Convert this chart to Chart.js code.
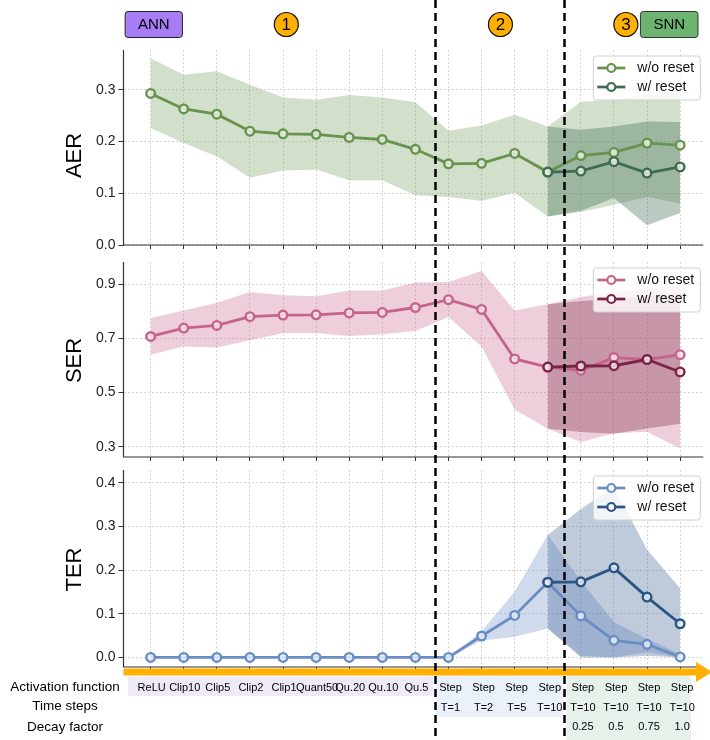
<!DOCTYPE html>
<html><head><meta charset="utf-8">
<script src="https://cdn.jsdelivr.net/npm/chart.js@4.4.1/dist/chart.umd.min.js"></script>
<style>
html,body{margin:0;padding:0;background:#fff;}
#wrap{position:relative;width:710px;height:740px;overflow:hidden;background:#fff;}
#wrap canvas{position:absolute;left:0;top:0;width:710px;height:740px;}
</style></head><body>
<div id="wrap">
<canvas id="aer" width="710" height="740"></canvas>
<canvas id="ser" width="710" height="740"></canvas>
<canvas id="ter" width="710" height="740"></canvas>
</div>
<script>
// ---- categories / table rows ----
const categories = ['ReLU','Clip10','Clip5','Clip2','Clip1','Quant50','Qu.20','Qu.10','Qu.5','Step','Step','Step','Step','Step','Step','Step','Step'];
const timeSteps  = ['','','','','','','','','','T=1','T=2','T=5','T=10','T=10','T=10','T=10','T=10'];
const decayFactors = ['','','','','','','','','','','','','','0.25','0.5','0.75','1.0'];
const rowLabels = ['Activation function','Time steps','Decay factor'];
const seriesNames = ['w/o reset','w/ reset'];

// ---- AER ----
const aerWo   = [0.293,0.263,0.253,0.220,0.215,0.214,0.208,0.204,0.185,0.157,0.158,0.177,0.141,0.173,0.179,0.197,0.193];
const aerWoHi = [0.361,0.329,0.336,0.310,0.285,0.281,0.290,0.285,0.276,0.221,0.231,0.252,0.229,0.277,0.281,0.290,0.300];
const aerWoLo = [0.226,0.197,0.171,0.130,0.144,0.146,0.125,0.125,0.096,0.093,0.085,0.101,0.055,0.064,0.078,0.093,0.080];
const aerW    = [null,null,null,null,null,null,null,null,null,null,null,null,0.141,0.143,0.161,0.139,0.151];
const aerWHi  = [null,null,null,null,null,null,null,null,null,null,null,null,0.229,0.223,0.229,0.239,0.238];
const aerWLo  = [null,null,null,null,null,null,null,null,null,null,null,null,0.055,0.066,0.091,0.038,0.062];
const aerTicks = [0.0,0.1,0.2,0.3];

// ---- SER ----
const serWo   = [0.707,0.738,0.748,0.780,0.786,0.787,0.794,0.796,0.814,0.843,0.807,0.624,0.594,0.582,0.629,0.622,0.640];
const serWoHi = [0.775,0.803,0.832,0.871,0.859,0.856,0.877,0.877,0.906,0.908,0.949,0.803,0.826,0.853,0.872,0.885,0.896];
const serWoLo = [0.640,0.670,0.666,0.693,0.720,0.720,0.709,0.715,0.727,0.779,0.670,0.437,0.366,0.317,0.350,0.355,0.293];
const serW    = [null,null,null,null,null,null,null,null,null,null,null,null,0.594,0.598,0.599,0.622,0.576];
const serWHi  = [null,null,null,null,null,null,null,null,null,null,null,null,0.826,0.838,0.845,0.855,0.865];
const serWLo  = [null,null,null,null,null,null,null,null,null,null,null,null,0.366,0.354,0.348,0.367,0.385];
const serTicks = [0.3,0.5,0.7,0.9];

// ---- TER ----
const terWo   = [0,0,0,0,0,0,0,0,0,0,0.049,0.096,0.172,0.095,0.039,0.030,0.001];
const terWoHi = [0,0,0,0,0,0,0,0,0,0,0.060,0.150,0.280,0.175,0.081,0.042,0.008];
const terWoLo = [0,0,0,0,0,0,0,0,0,0,0.038,0.047,0.066,0.004,0.000,0.012,0.000];
const terW    = [null,null,null,null,null,null,null,null,null,null,null,null,0.172,0.173,0.205,0.138,0.077];
const terWHi  = [null,null,null,null,null,null,null,null,null,null,null,null,0.280,0.340,0.390,0.247,0.158];
const terWLo  = [null,null,null,null,null,null,null,null,null,null,null,null,0.066,0.000,0.000,0.004,0.000];
const terTicks = [0.0,0.1,0.2,0.3,0.4];

const FAM = '"Liberation Sans", Arial, Helvetica, sans-serif';
Chart.defaults.font.family = FAM;

const pts = arr => arr.map((v,i)=> v===null ? null : {x:i, y:v}).filter(p=>p);

function rr(ctx,x,y,w,h,r){
  ctx.beginPath();
  ctx.moveTo(x+r,y); ctx.lineTo(x+w-r,y); ctx.quadraticCurveTo(x+w,y,x+w,y+r);
  ctx.lineTo(x+w,y+h-r); ctx.quadraticCurveTo(x+w,y+h,x+w-r,y+h);
  ctx.lineTo(x+r,y+h); ctx.quadraticCurveTo(x,y+h,x,y+h-r);
  ctx.lineTo(x,y+r); ctx.quadraticCurveTo(x,y,x+r,y); ctx.closePath();
}

const panelDeco = {
  id:'panelDeco',
  beforeDatasetsDraw(chart){
    // axis spines (left + bottom)
    const ctx = chart.ctx, ca = chart.chartArea;
    ctx.save();
    ctx.strokeStyle='#333'; ctx.lineWidth=1.2; ctx.setLineDash([]);
    ctx.beginPath(); ctx.moveTo(ca.left, ca.top); ctx.lineTo(ca.left, ca.bottom); ctx.lineTo(ca.right, ca.bottom); ctx.stroke();
    ctx.restore();
  },
  afterDraw(chart, args, o){
    const ctx = chart.ctx, ca = chart.chartArea;
    // y title
    ctx.save();
    ctx.translate(75, (ca.top+ca.bottom)/2 + o.titleShift);
    ctx.rotate(-Math.PI/2);
    ctx.font = '22px '+FAM; ctx.fillStyle='#000'; ctx.textAlign='center'; ctx.textBaseline='middle';
    ctx.fillText(o.title,0,0);
    ctx.restore();
    // legend
    const bx = ca.right-110, by = ca.top+6, bw=107, bh=44;
    ctx.save();
    rr(ctx,bx,by,bw,bh,3);
    ctx.fillStyle='rgba(255,255,255,0.8)'; ctx.fill();
    ctx.strokeStyle='#d0d0d0'; ctx.lineWidth=1; ctx.stroke();
    const cols=[o.woColor,o.wColor];
    seriesNames.forEach((name,k)=>{
      const y = by+12+k*19;
      ctx.strokeStyle=cols[k]; ctx.lineWidth=2.7;
      ctx.beginPath(); ctx.moveTo(bx+4,y); ctx.lineTo(bx+32,y); ctx.stroke();
      ctx.beginPath(); ctx.arc(bx+18,y,4,0,Math.PI*2);
      ctx.fillStyle='#f4f4f4'; ctx.fill(); ctx.lineWidth=2.2; ctx.stroke();
      ctx.font='14px '+FAM; ctx.fillStyle='#111'; ctx.textAlign='left'; ctx.textBaseline='middle';
      ctx.fillText(name,bx+44,y+0.5);
    });
    ctx.restore();
  }
};

const overlay = {
  id:'overlay',
  afterDraw(chart){
    const ctx = chart.ctx, ca = chart.chartArea, xs = chart.scales.x;
    const px = v => xs.getPixelForValue(v);
    ctx.save();
    // shaded table regions
    ctx.fillStyle='#efeaf8'; ctx.fillRect(px(-0.69),677,px(8.54)-px(-0.69),19);
    ctx.fillStyle='#eaf1fb'; ctx.fillRect(px(8.63),675,px(12.45)-px(8.63),42);
    ctx.fillStyle='#e5f1e9'; ctx.fillRect(px(12.57),675,px(16.33)-px(12.57),65);
    // orange arrow
    ctx.fillStyle='#ffb000';
    ctx.fillRect(ca.left,668.5,698-ca.left,7);
    ctx.beginPath(); ctx.moveTo(696,662); ctx.lineTo(712,672); ctx.lineTo(696,682); ctx.closePath(); ctx.fill();
    // row labels
    ctx.fillStyle='#000'; ctx.textAlign='center'; ctx.textBaseline='middle';
    ctx.font='13.5px '+FAM;
    const rowY=[687,706,727];
    rowLabels.forEach((t,k)=>ctx.fillText(t,65,rowY[k]));
    ctx.font='11px '+FAM;
    categories.forEach((t,i)=>ctx.fillText(t,px(i)+(i>8?2:1),688));
    timeSteps.forEach((t,i)=>{ if(t) ctx.fillText(t,px(i)+2,708); });
    decayFactors.forEach((t,i)=>{ if(t) ctx.fillText(t,px(i)+2,727); });
    // header
    ctx.lineWidth=1;
    rr(ctx,px(-0.77),11.5,px(0.96)-px(-0.77),26,3);
    ctx.fillStyle='#a77df6'; ctx.fill(); ctx.strokeStyle='#222'; ctx.stroke();
    rr(ctx,px(14.8),11.5,px(16.54)-px(14.8),26,3);
    ctx.fillStyle='#6cb46f'; ctx.fill(); ctx.strokeStyle='#333'; ctx.stroke();
    ctx.font='15px '+FAM; ctx.fillStyle='#000';
    ctx.fillText('ANN',(px(-0.77)+px(0.96))/2,25);
    ctx.fillText('SNN',(px(14.8)+px(16.54))/2,25);
    [[4.1,'1'],[10.57,'2'],[14.36,'3']].forEach(([v,t])=>{
      ctx.beginPath(); ctx.arc(px(v),24.5,12,0,Math.PI*2);
      ctx.fillStyle='#ffb000'; ctx.fill(); ctx.strokeStyle='#111'; ctx.lineWidth=1.2; ctx.stroke();
      ctx.font='17px '+FAM; ctx.fillStyle='#000'; ctx.fillText(t,px(v),25.5);
    });
    // dashed separators
    ctx.strokeStyle='#000'; ctx.lineWidth=2.5; ctx.setLineDash([8,5]);
    [8.6,12.5].forEach(v=>{ const x=Math.round(px(v))+0.5; ctx.beginPath(); ctx.moveTo(x,0); ctx.lineTo(x,740); ctx.stroke(); });
    ctx.restore();
  }
};

function makeChart(id, c){
  const ptStyle = col => ({borderColor:col, borderWidth:2.8, pointRadius:4.3, pointBorderWidth:2.4,
      pointBorderColor:col, pointBackgroundColor:c.pointFill, fill:false});
  const datasets = [
    {data:pts(c.woHi), borderWidth:0, borderColor:'rgba(0,0,0,0)', pointRadius:0, fill:'+1', backgroundColor:c.woBand, order:3},
    {data:pts(c.woLo), borderWidth:0, borderColor:'rgba(0,0,0,0)', pointRadius:0, fill:false, order:3},
    {data:pts(c.wHi), borderWidth:0, borderColor:'rgba(0,0,0,0)', pointRadius:0, fill:'+1', backgroundColor:c.wBand, order:2},
    {data:pts(c.wLo), borderWidth:0, borderColor:'rgba(0,0,0,0)', pointRadius:0, fill:false, order:2},
    Object.assign({label:seriesNames[0], data:pts(c.wo), order:1}, ptStyle(c.woColor)),
    Object.assign({label:seriesNames[1], data:pts(c.w), order:0}, ptStyle(c.wColor))
  ];
  const gridCommon = {color:'#cccccc', lineWidth:0.8, borderDash:[2,2], tickColor:'#333', tickWidth:1, tickBorderDash:[]};
  const borderCommon = {display:false, dash:[2,2], color:'#333', width:1.2};
  return new Chart(document.getElementById(id), {
    type:'line',
    data:{datasets},
    options:{
      responsive:false, animation:false, devicePixelRatio:1,
      events:[],
      layout:{padding:{top:c.top, bottom:740-c.bottom-5, left:0, right:0}},
      elements:{line:{tension:0}},
      plugins:{legend:{display:false}, tooltip:{enabled:false},
        panelDeco:{title:c.title, titleShift:c.titleShift, woColor:c.woColor, wColor:c.wColor}},
      scales:{
        x:{type:'linear', min:-0.82, max:16.7,
          afterBuildTicks:s=>{ s.ticks = categories.map((_,i)=>({value:i})); },
          afterFit:s=>{ s.height=5; },
          ticks:{display:false},
          grid:Object.assign({tickLength:4}, gridCommon),
          border:borderCommon},
        y:{type:'linear', min:c.min, max:c.max,
          afterBuildTicks:s=>{ s.ticks = c.ticks.map(v=>({value:v})); },
          afterFit:s=>{ s.width=123.5; },
          ticks:{font:{size:14, family:FAM}, color:'#222', padding:3, callback:v=>Number(v).toFixed(1)},
          grid:Object.assign({tickLength:5}, gridCommon),
          border:borderCommon}
      }
    },
    plugins: c.extra ? [panelDeco, overlay] : [panelDeco]
  });
}

makeChart('aer',{title:'AER', titleShift:8, top:50, bottom:245, min:0, max:0.377, ticks:aerTicks,
  wo:aerWo, woHi:aerWoHi, woLo:aerWoLo, w:aerW, wHi:aerWHi, wLo:aerWLo, pointFill:'rgba(232,240,228,0.85)',
  woColor:'#67934f', wColor:'#3f6b52', woBand:'rgba(111,154,92,0.32)', wBand:'rgba(63,107,82,0.36)'});
makeChart('ser',{title:'SER', titleShift:1, top:262, bottom:457, min:0.262, max:0.982, ticks:serTicks,
  wo:serWo, woHi:serWoHi, woLo:serWoLo, w:serW, wHi:serWHi, wLo:serWLo, pointFill:'rgba(245,228,235,0.85)',
  woColor:'#c5648a', wColor:'#7b2546', woBand:'rgba(200,105,142,0.33)', wBand:'rgba(123,37,70,0.33)'});
makeChart('ter',{title:'TER', titleShift:1, top:470, bottom:667, min:-0.022, max:0.429, ticks:terTicks,
  wo:terWo, woHi:terWoHi, woLo:terWoLo, w:terW, wHi:terWHi, wLo:terWLo, pointFill:'rgba(232,238,248,0.85)',
  woColor:'#6a8cc5', wColor:'#2b5483', woBand:'rgba(109,143,199,0.33)', wBand:'rgba(43,84,131,0.3)', extra:true});
</script>
</body></html>
